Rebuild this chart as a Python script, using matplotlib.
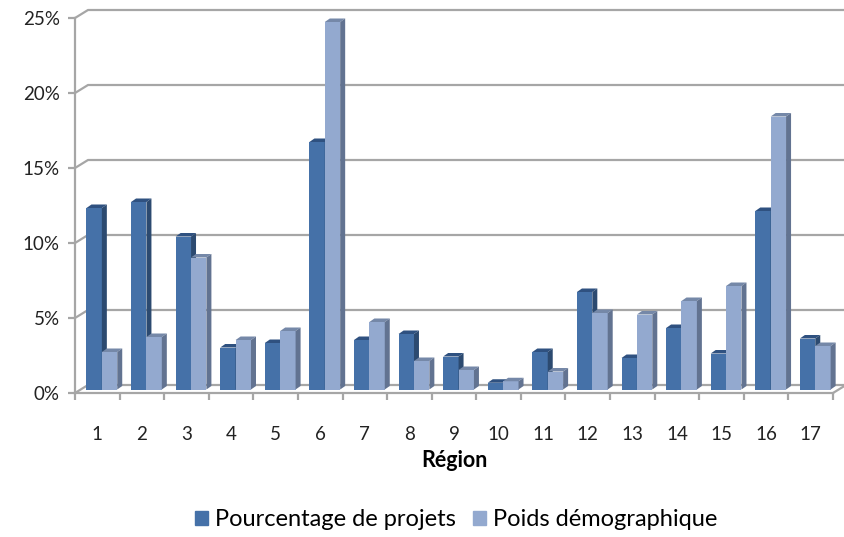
import matplotlib.pyplot as plt
from matplotlib.patches import Patch
from matplotlib.ticker import FixedLocator

plt.rcParams['font.family'] = ['Lato', 'DejaVu Sans']

regions = [str(i) for i in range(1, 18)]
projets = [12.1, 12.5, 10.2, 2.8, 3.1, 16.5, 3.3, 3.7, 2.2, 0.45, 2.5, 6.5, 2.1, 4.1, 2.4, 11.9, 3.4]
poids = [2.5, 3.5, 8.8, 3.3, 3.9, 24.5, 4.5, 1.9, 1.3, 0.55, 1.2, 5.1, 5.0, 5.9, 6.9, 18.2, 2.9]
yticks = [0, 5, 10, 15, 20, 25]

dark = ('#4571a8', '#2f5180', '#2c4a70')    # front, top, side
light = ('#93a9cf', '#7588a8', '#627391')
grid_c = '#a6a6a6'

W, H = 844, 537
fig = plt.figure(figsize=(W / 100, H / 100), dpi=100)
ax = fig.add_axes([75 / W, (H - 393) / H, 758 / W, 375 / H])
ax.set_xlim(0, 17)
ax.set_ylim(0, 25)

# pixel -> data
px_x = 17 / 758
px_y = 25 / 375

# back wall + floor edges
wdx, wdy = 13 * px_x, 8 * px_y
for v in yticks:
    ax.plot([0, wdx, 17 + wdx], [v, v + wdy, v + wdy], color=grid_c, lw=1.6,
            clip_on=False, zorder=1)
ax.plot([17, 17 + wdx], [0, wdy], color=grid_c, lw=1.6, clip_on=False, zorder=1)

# bars with fake depth
bdx, bdy = 5 * px_x, 3.5 * px_y
off_x, off_y = 5 * px_x, 3.5 * px_y
bw = 0.345


def bar3d(x0, h, cols):
    y0 = off_y
    y1 = off_y + h
    x1 = x0 + bw
    ax.fill([x0, x1, x1, x0], [y0, y0, y1, y1], color=cols[0], lw=0,
            zorder=3, clip_on=False)
    ax.fill([x0, x0 + bdx, x1 + bdx, x1], [y1, y1 + bdy, y1 + bdy, y1],
            color=cols[1], lw=0, zorder=3, clip_on=False)
    ax.fill([x1, x1 + bdx, x1 + bdx, x1], [y0, y0 + bdy, y1 + bdy, y1],
            color=cols[2], lw=0, zorder=3, clip_on=False)


for i in range(len(regions)):
    c = i + 0.5 + off_x - 0.01
    bar3d(c - bw, projets[i], dark)
    bar3d(c, poids[i], light)

for s in ['top', 'right']:
    ax.spines[s].set_visible(False)
for s in ['left', 'bottom']:
    ax.spines[s].set_color(grid_c)
    ax.spines[s].set_linewidth(1.6)
    ax.spines[s].set_zorder(2)

ax.set_yticks(yticks)
ax.set_yticklabels([f'{v}%' for v in yticks], fontsize=13.5, color='#222222')
ax.tick_params(axis='y', length=5, width=1.6, color=grid_c, pad=6)

ax.xaxis.set_major_locator(FixedLocator(range(18)))
ax.set_xticklabels([])
ax.set_xticks([i + 0.5 for i in range(17)], minor=True)
ax.set_xticklabels(regions, minor=True, fontsize=13.5, color='#222222')
ax.tick_params(axis='x', which='major', length=5, width=1.6, color=grid_c)
ax.tick_params(axis='x', which='minor', length=0, pad=24)
ax.set_xlabel('Région', fontsize=15.5, fontweight='bold', labelpad=5)

handles = [Patch(color=dark[0], label='Pourcentage de projets'),
           Patch(color=light[0], label='Poids démographique')]
fig.legend(handles=handles, loc='center', bbox_to_anchor=(456 / W, 1 - 520 / H),
           ncol=2, frameon=False, fontsize=17, handlelength=0.55,
           handleheight=0.55, handletextpad=0.3, columnspacing=0.7)

fig.savefig('out.png', dpi=100, facecolor='white')
